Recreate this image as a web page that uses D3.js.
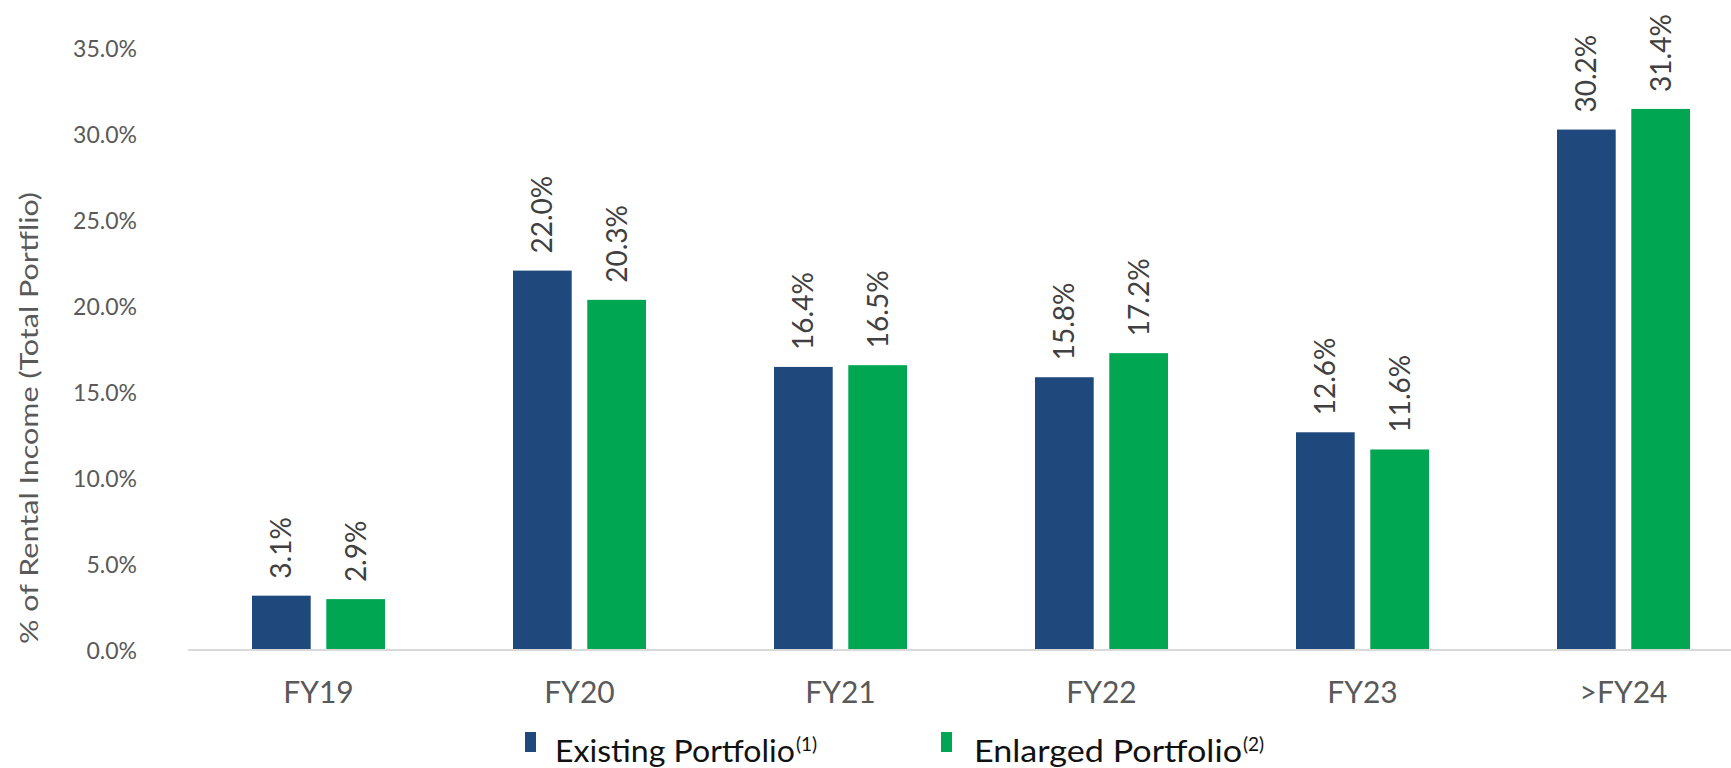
<!DOCTYPE html>
<html>
<head>
<meta charset="utf-8">
<script src="https://cdn.jsdelivr.net/npm/d3@7"></script>
<style>
  html, body { margin: 0; padding: 0; background: #fff; }
  svg { display: block; font-family: Lato, "Noto Sans", sans-serif; }
</style>
</head>
<body>
<svg id="chart" width="1731" height="768"></svg>
<script>
// Lease expiry profile by fiscal year
const categories = ["FY19", "FY20", "FY21", "FY22", "FY23", ">FY24"];
const existingPortfolio = [3.1, 22.0, 16.4, 15.8, 12.6, 30.2];
const enlargedPortfolio = [2.9, 20.3, 16.5, 17.2, 11.6, 31.4];
const seriesNames = ["Existing Portfolio", "Enlarged Portfolio"];
const seriesNotes = ["(1)", "(2)"];
const seriesColors = ["#1f497d", "#00a651"];
const yTicks = [0, 5, 10, 15, 20, 25, 30, 35];
const yTitle = "% of Rental Income (Total Portflio)";

const svg = d3.select("#chart");

const plot = { left: 188, right: 1754, top: 47, bottom: 649 };

const x = d3.scaleBand()
  .domain(categories)
  .range([plot.left, plot.right])
  .paddingInner(0)
  .paddingOuter(0);

const groupWidth = 133;
const xSeries = d3.scaleBand()
  .domain(seriesNames)
  .range([-groupWidth / 2, groupWidth / 2])
  .paddingInner(0.21);

const y = d3.scaleLinear()
  .domain([0, 35])
  .range([plot.bottom, plot.top]);

// y axis labels
const yAxis = d3.axisLeft(y)
  .tickValues(yTicks)
  .tickSize(0)
  .tickPadding(0)
  .tickFormat(d => d.toFixed(1) + "%");

const gy = svg.append("g")
  .attr("transform", `translate(137,2)`)
  .call(yAxis);
gy.select(".domain").remove();
gy.selectAll("text")
  .attr("fill", "#595959")
  .style("font-size", "23px")
  .style("font-family", "Lato, 'Noto Sans', sans-serif");

// y axis title
svg.append("text")
  .attr("transform", "translate(38,418) rotate(-90)")
  .attr("text-anchor", "middle")
  .attr("fill", "#595959")
  .style("font-size", "25px")
  .attr("textLength", 452)
  .attr("lengthAdjust", "spacingAndGlyphs")
  .text(yTitle);

// bars
const rows = categories.map((c, i) => ({
  category: c,
  values: [existingPortfolio[i], enlargedPortfolio[i]]
}));

const groups = svg.append("g").selectAll("g")
  .data(rows)
  .join("g")
  .attr("transform", d => `translate(${x(d.category) + x.bandwidth() / 2},0)`);

groups.selectAll("rect")
  .data(d => d.values.map((v, k) => ({ series: seriesNames[k], value: v, k })))
  .join("rect")
  .attr("x", d => xSeries(d.series))
  .attr("width", xSeries.bandwidth())
  .attr("y", d => y(d.value))
  .attr("height", d => y(0) - y(d.value))
  .attr("fill", d => seriesColors[d.k]);

// value labels, rotated
groups.selectAll("text.value")
  .data(d => d.values.map((v, k) => ({ series: seriesNames[k], value: v, k })))
  .join("text")
  .attr("class", "value")
  .attr("transform", d => `translate(${xSeries(d.series) + xSeries.bandwidth() / 2},${y(d.value) - 17}) rotate(-90)`)
  .attr("dy", "0.36em")
  .attr("text-anchor", "start")
  .attr("fill", "#404040")
  .style("font-size", "28px")
  .text(d => d.value.toFixed(1) + "%");

// baseline
svg.append("line")
  .attr("x1", plot.left)
  .attr("x2", 1731)
  .attr("y1", y(0) + 1)
  .attr("y2", y(0) + 1)
  .attr("stroke", "#d9d9d9")
  .attr("stroke-width", 2);

// category labels
svg.append("g").selectAll("text")
  .data(categories)
  .join("text")
  .attr("x", d => x(d) + x.bandwidth() / 2)
  .attr("y", 703)
  .attr("text-anchor", "middle")
  .attr("fill", "#595959")
  .style("font-size", "30px")
  .text(d => d);

// legend
const legendItems = [
  { x: 525, textX: 555, width: 240 },
  { x: 941, textX: 974, width: 268 }
];
const legend = svg.append("g");
legendItems.forEach((item, k) => {
  legend.append("rect")
    .attr("x", item.x)
    .attr("y", 732)
    .attr("width", 11)
    .attr("height", 20)
    .attr("fill", seriesColors[k]);
  legend.append("text")
    .attr("x", item.textX)
    .attr("y", 762)
    .attr("fill", "#111")
    .style("font-size", "30px")
    .attr("textLength", item.width)
    .attr("lengthAdjust", "spacingAndGlyphs")
    .text(seriesNames[k]);
  legend.append("text")
    .attr("x", item.textX + item.width + 1)
    .attr("y", 751)
    .attr("fill", "#111")
    .style("font-size", "19px")
    .text(seriesNotes[k]);
});
</script>
</body>
</html>
